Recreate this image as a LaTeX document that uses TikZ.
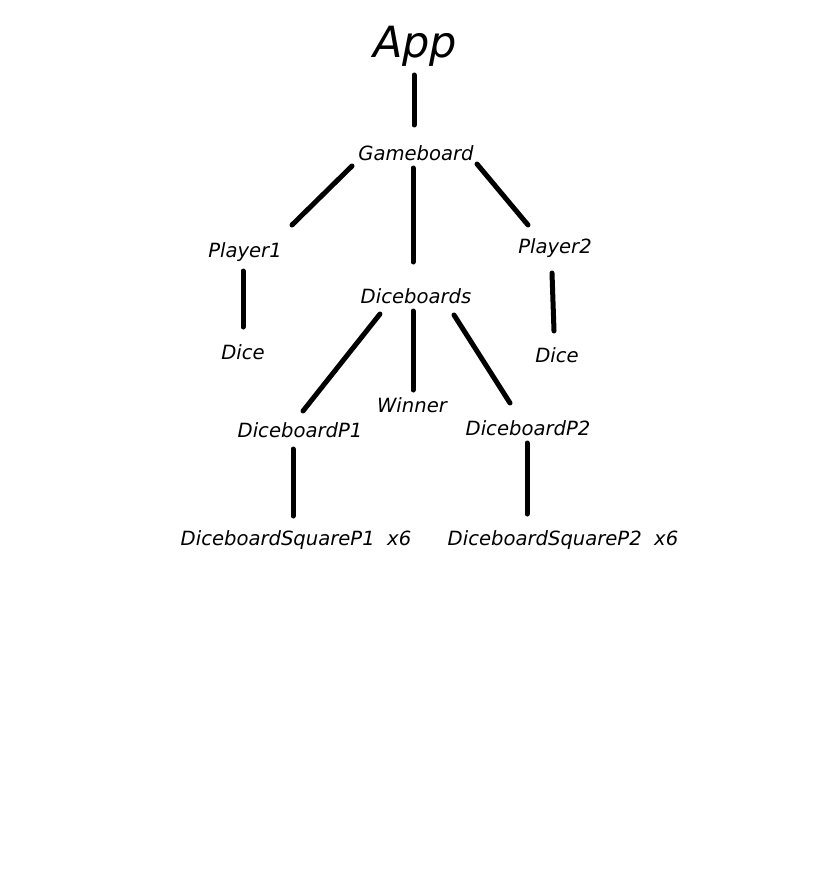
\documentclass[tikz,border=0pt]{standalone}
\usepackage{fontspec}
\setmainfont{DejaVu Sans}
\begin{document}
\begin{tikzpicture}[x=1pt,y=-1pt,
  lbl/.style={font=\fontsize{19.6}{22}\selectfont\itshape,inner sep=0pt,anchor=center},
  edge/.style={line width=5pt,line cap=round}]
\useasboundingbox[fill=white] (0,0) rectangle (834,872);
% nodes
\node[lbl,font=\fontsize{43}{48}\selectfont\itshape] (app) at (415,46) {App};
\node[lbl] (gb) at (416,153) {Gameboard};
\node[lbl] (p1) at (245,252) {Player1};
\node[lbl] (p2) at (555,248) {Player2};
\node[lbl] (dbs) at (416,296) {Diceboards};
\node[lbl] (d1) at (243,352) {Dice};
\node[lbl] (d2) at (557,355) {Dice};
\node[lbl] (win) at (412,405) {Winner};
\node[lbl] (dp1) at (300,430) {DiceboardP1};
\node[lbl] (dp2) at (528,428) {DiceboardP2};
\node[lbl] (sq1) at (296,540) {DiceboardSquareP1\ \ x6};
\node[lbl] (sq2) at (563,540) {DiceboardSquareP2\ \ x6};
% connector end points
\coordinate (appS) at (414,75);   \coordinate (gbN) at (414,125);
\coordinate (gbSW) at (352,166);  \coordinate (p1N) at (292,225);
\coordinate (gbS) at (413,168);   \coordinate (dbsN) at (413,262);
\coordinate (gbSE) at (477,164);  \coordinate (p2N) at (528,225);
\coordinate (p1S) at (243,271);   \coordinate (d1N) at (243,327);
\coordinate (p2S) at (552,273);   \coordinate (d2N) at (554,331);
\coordinate (dbsSW) at (380,314); \coordinate (dp1N) at (303,411);
\coordinate (dbsS) at (413,311);  \coordinate (winN) at (413,390);
\coordinate (dbsSE) at (454,315); \coordinate (dp2N) at (510,403);
\coordinate (dp1S) at (293,449);  \coordinate (sq1N) at (293,516);
\coordinate (dp2S) at (527,443);  \coordinate (sq2N) at (527,514);
% connectors
\draw[edge] (appS) -- (gbN);
\draw[edge] (gbSW) -- (p1N);
\draw[edge] (gbS) -- (dbsN);
\draw[edge] (gbSE) -- (p2N);
\draw[edge] (p1S) -- (d1N);
\draw[edge] (p2S) -- (d2N);
\draw[edge] (dbsSW) -- (dp1N);
\draw[edge] (dbsS) -- (winN);
\draw[edge] (dbsSE) -- (dp2N);
\draw[edge] (dp1S) -- (sq1N);
\draw[edge] (dp2S) -- (sq2N);
\end{tikzpicture}
\end{document}
